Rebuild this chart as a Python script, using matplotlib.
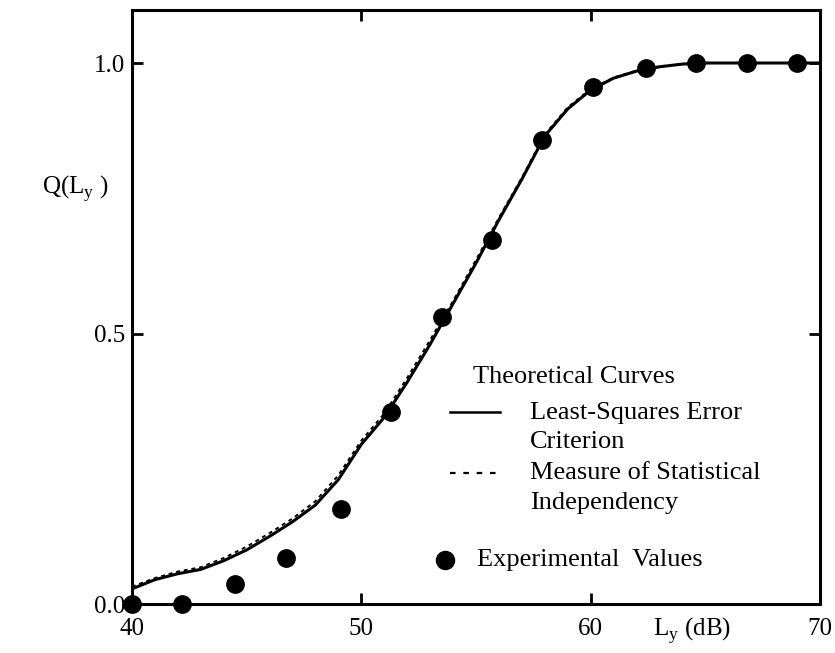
import matplotlib
matplotlib.use('Agg')
import matplotlib.pyplot as plt
from matplotlib.lines import Line2D

plt.rcParams['font.family'] = ['Liberation Serif', 'DejaVu Serif']

# theoretical curves
ly_curve = [40, 41, 42, 43, 44, 45, 46, 47, 48, 49, 50, 51, 52, 53, 54, 55,
            56, 57, 58, 59, 60, 61, 62, 63, 64, 65, 70]
q_lsq = [0.028, 0.045, 0.056, 0.064, 0.080, 0.100, 0.125, 0.152, 0.183, 0.230,
         0.295, 0.345, 0.410, 0.480, 0.555, 0.630, 0.710, 0.785, 0.865, 0.915,
         0.950, 0.972, 0.985, 0.993, 0.998, 1.000, 1.000]
q_indep = [0.032, 0.048, 0.060, 0.068, 0.085, 0.106, 0.131, 0.158, 0.190, 0.238,
           0.302, 0.352, 0.418, 0.488, 0.560, 0.636, 0.714, 0.788, 0.868, 0.918,
           0.952, 0.973, 0.986, 0.994, 0.998, 1.000, 1.000]

# experimental values
ly_exp = [40.0, 42.2, 44.5, 46.7, 49.1, 51.3, 53.5, 55.7, 57.9, 60.1, 62.4, 64.6, 66.8, 69.0]
q_exp = [0.0, 0.0, 0.037, 0.085, 0.176, 0.355, 0.530, 0.672, 0.858, 0.955, 0.990, 1.0, 1.0, 1.0]

fig = plt.figure(figsize=(8.35, 6.53), dpi=100)
ax = fig.add_axes([0.158, 0.075, 0.824, 0.9097])

ax.plot(ly_curve, q_lsq, color='black', linewidth=2.2, solid_capstyle='round')
ax.plot(ly_curve, q_indep, color='black', linewidth=1.4, linestyle=(0, (2, 2)))
ax.plot(ly_exp, q_exp, 'o', color='black', markersize=12.5, clip_on=False, zorder=5)

ax.set_xlim(40, 70)
ax.set_ylim(0, 1.098)
ax.set_xticks([40, 50, 60, 70])
ax.set_xticklabels(['40', '50', '60', '70'])
ax.set_yticks([0.0, 0.5, 1.0])
ax.set_yticklabels(['0.0', '0.5', '1.0'])
ax.tick_params(direction='in', length=8, width=2, labelsize=18,
               top=True, right=True, pad=5)
ax.tick_params(axis='x', pad=10)
for s in ax.spines.values():
    s.set_linewidth(2.2)

ax.text(-0.13, 0.70, r'Q(L$_{\mathregular{y}}$ )', transform=ax.transAxes,
        fontsize=18, ha='left', va='center')
ax.text(0.758, -0.044, r'L$_{\mathregular{y}}$ (dB)', transform=ax.transAxes,
        fontsize=18, ha='left', va='center')

# legend drawn as text block
fs = 19
ax.text(0.496, 0.382, 'Theoretical Curves', transform=ax.transAxes, fontsize=fs, va='center')
ax.add_line(Line2D([0.462, 0.535], [0.323, 0.323], transform=ax.transAxes,
                   color='black', linewidth=1.8))
ax.text(0.578, 0.322, 'Least-Squares Error', transform=ax.transAxes, fontsize=fs, va='center')
ax.text(0.578, 0.272, 'Criterion', transform=ax.transAxes, fontsize=fs, va='center')
ax.add_line(Line2D([0.462, 0.535], [0.221, 0.221], transform=ax.transAxes,
                   color='black', linewidth=1.6, linestyle=(0, (2.5, 3.5))))
ax.text(0.578, 0.221, 'Measure of Statistical', transform=ax.transAxes, fontsize=fs, va='center')
ax.text(0.578, 0.170, 'Independency', transform=ax.transAxes, fontsize=fs, va='center')
ax.plot([0.455], [0.074], 'o', color='black', markersize=13, transform=ax.transAxes)
ax.text(0.501, 0.074, 'Experimental  Values', transform=ax.transAxes, fontsize=fs, va='center')

fig.savefig('out.png', dpi=100)
